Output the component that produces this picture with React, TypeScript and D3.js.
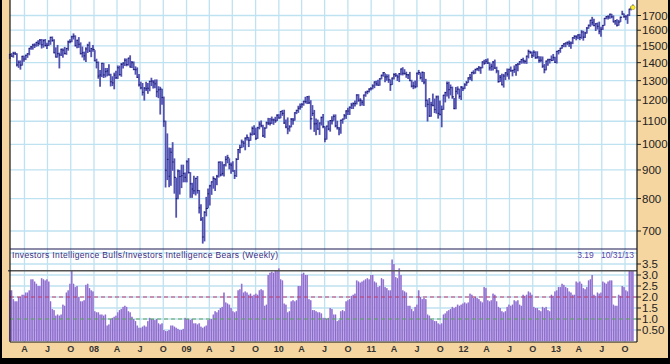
import { useEffect, useRef } from "react";
import * as d3 from "d3";

// weekly S&P 500 bars: [high, low, close], weeks ending Friday from 2/2/2007
type Bar = [number, number, number];

const spx2007: Bar[] = [
  [1449, 1424, 1448], [1453, 1437, 1438], [1461, 1432, 1455], [1461, 1449, 1451],
  [1452, 1381, 1387], [1410, 1373, 1402], [1410, 1363, 1386], [1437, 1386, 1437], [1438, 1408, 1421],
  [1444, 1418, 1443], [1453, 1431, 1452], [1485, 1446, 1485], [1497, 1479, 1494],
  [1510, 1480, 1505], [1513, 1490, 1505], [1522, 1498, 1522], [1532, 1501, 1515],
  [1540, 1510, 1536], [1540, 1487, 1507], [1538, 1492, 1533], [1540, 1500, 1502], [1517, 1484, 1503],
  [1532, 1503, 1530], [1555, 1510, 1553], [1556, 1529, 1534], [1539, 1458, 1458],
  [1488, 1433, 1433], [1503, 1433, 1453], [1456, 1370, 1445], [1480, 1442, 1479], [1481, 1432, 1474],
  [1491, 1451, 1454], [1485, 1449, 1484], [1530, 1474, 1525], [1539, 1519, 1527],
  [1561, 1526, 1557], [1576, 1543, 1561], [1563, 1500, 1501], [1535, 1489, 1535],
  [1552, 1491, 1510], [1519, 1451, 1453], [1493, 1433, 1458], [1462, 1416, 1440], [1488, 1406, 1481],
  [1510, 1460, 1504], [1523, 1467, 1468], [1485, 1435, 1484], [1503, 1468, 1478],
];

const spx2008: Bar[] = [
  [1471, 1411, 1411], [1420, 1370, 1401], [1404, 1313, 1325], [1355, 1270, 1331],
  [1396, 1322, 1396], [1396, 1317, 1331], [1367, 1320, 1349], [1367, 1326, 1353], [1388, 1330, 1331],
  [1335, 1272, 1294], [1321, 1274, 1288], [1341, 1257, 1330], [1352, 1312, 1316],
  [1381, 1312, 1371], [1380, 1330, 1333], [1395, 1324, 1390], [1398, 1370, 1398],
  [1422, 1384, 1414], [1421, 1382, 1389], [1426, 1386, 1426], [1440, 1375, 1375], [1406, 1373, 1400],
  [1404, 1360, 1361], [1376, 1335, 1360], [1370, 1317, 1318], [1333, 1272, 1278],
  [1292, 1257, 1262], [1285, 1225, 1239], [1263, 1200, 1261], [1291, 1248, 1257],
  [1285, 1234, 1260], [1297, 1247, 1296], [1313, 1274, 1298], [1300, 1261, 1292], [1303, 1263, 1283],
  [1304, 1217, 1242], [1268, 1212, 1252], [1265, 1133, 1255], [1255, 1180, 1213],
  [1215, 1077, 1100], [1100, 839, 899], [1044, 865, 940], [985, 840, 877], [984, 845, 968],
  [1007, 899, 930], [942, 818, 873], [870, 741, 800], [900, 799, 896],
  [898, 815, 876], [918, 837, 879], [918, 857, 887], [889, 857, 873],
];

const spx2009: Bar[] = [
  [935, 857, 931], [943, 889, 890], [890, 804, 850], [852, 804, 832], [877, 816, 826],
  [870, 812, 869], [876, 818, 827], [827, 754, 770], [780, 731, 735],
  [740, 666, 683], [758, 672, 756], [804, 745, 768], [832, 770, 816],
  [845, 779, 843], [857, 814, 857], [875, 835, 869], [868, 827, 866],
  [880, 847, 877], [930, 874, 929], [931, 878, 882], [930, 881, 887], [920, 878, 919],
  [951, 915, 940], [956, 927, 946], [942, 904, 921], [926, 888, 918],
  [931, 896, 896], [898, 869, 879], [943, 876, 940], [979, 940, 979], [996, 966, 987],
  [1018, 987, 1010], [1013, 990, 1005], [1027, 978, 1026], [1039, 1018, 1029],
  [1028, 991, 1017], [1048, 1017, 1042], [1074, 1039, 1068], [1080, 1041, 1044],
  [1069, 1020, 1025], [1073, 1025, 1071], [1097, 1066, 1087], [1101, 1075, 1080], [1082, 1033, 1036],
  [1071, 1029, 1069], [1096, 1070, 1093], [1113, 1085, 1091], [1112, 1083, 1091],
  [1119, 1090, 1106], [1110, 1086, 1106], [1118, 1095, 1102], [1130, 1103, 1127],
];

const spx2010: Bar[] = [
  [1130, 1114, 1115], [1145, 1116, 1145], [1150, 1127, 1136], [1151, 1090, 1092], [1105, 1071, 1074],
  [1115, 1045, 1066], [1080, 1056, 1075], [1112, 1075, 1109], [1112, 1086, 1105],
  [1139, 1105, 1139], [1151, 1135, 1150], [1170, 1141, 1160], [1181, 1156, 1167],
  [1183, 1165, 1179], [1194, 1175, 1194], [1214, 1186, 1192], [1217, 1183, 1217], [1219, 1183, 1187],
  [1197, 1065, 1111], [1173, 1126, 1136], [1150, 1055, 1088], [1110, 1040, 1089],
  [1105, 1064, 1065], [1092, 1042, 1092], [1119, 1083, 1117], [1131, 1071, 1076],
  [1074, 1011, 1022], [1078, 1022, 1078], [1100, 1062, 1065], [1103, 1056, 1103], [1120, 1087, 1102],
  [1129, 1105, 1122], [1129, 1075, 1079], [1100, 1065, 1071], [1072, 1040, 1065],
  [1105, 1047, 1104], [1109, 1091, 1110], [1131, 1110, 1125], [1148, 1113, 1148],
  [1160, 1131, 1147], [1167, 1131, 1165], [1184, 1159, 1176], [1186, 1159, 1183], [1196, 1171, 1183],
  [1227, 1181, 1225], [1227, 1194, 1199], [1207, 1173, 1199], [1198, 1176, 1189],
  [1225, 1174, 1225], [1241, 1219, 1240], [1246, 1232, 1243], [1257, 1241, 1256], [1263, 1251, 1258],
];

const spx2011: Bar[] = [
  [1278, 1257, 1272], [1293, 1263, 1293], [1297, 1275, 1283], [1302, 1276, 1276],
  [1311, 1276, 1310], [1330, 1310, 1329], [1344, 1324, 1343], [1337, 1294, 1320],
  [1332, 1302, 1321], [1331, 1291, 1304], [1303, 1249, 1279], [1314, 1280, 1314],
  [1337, 1309, 1333], [1339, 1322, 1329], [1330, 1301, 1320], [1339, 1295, 1338], [1364, 1332, 1364],
  [1371, 1331, 1340], [1360, 1336, 1338], [1346, 1318, 1333], [1334, 1311, 1331],
  [1345, 1300, 1300], [1302, 1267, 1271], [1292, 1258, 1272], [1298, 1262, 1268],
  [1341, 1268, 1340], [1356, 1334, 1344], [1340, 1309, 1316], [1347, 1295, 1345], [1345, 1283, 1292],
  [1307, 1168, 1199], [1200, 1101, 1179], [1208, 1122, 1124], [1190, 1123, 1177],
  [1230, 1172, 1174], [1205, 1140, 1154], [1220, 1137, 1216], [1220, 1114, 1136], [1195, 1129, 1131],
  [1171, 1075, 1155], [1224, 1155, 1224], [1239, 1191, 1238], [1293, 1221, 1285],
  [1292, 1210, 1253], [1277, 1226, 1263], [1266, 1209, 1216], [1208, 1158, 1159],
  [1264, 1158, 1244], [1267, 1231, 1255], [1255, 1209, 1219], [1269, 1203, 1265], [1267, 1248, 1258],
];

const spx2012: Bar[] = [
  [1284, 1258, 1278], [1296, 1275, 1289], [1315, 1291, 1315], [1333, 1306, 1316],
  [1345, 1300, 1345], [1354, 1337, 1342], [1363, 1340, 1361], [1368, 1357, 1366],
  [1378, 1354, 1370], [1374, 1340, 1371], [1405, 1371, 1404], [1414, 1391, 1397], [1419, 1397, 1408],
  [1422, 1395, 1398], [1398, 1358, 1370], [1392, 1357, 1379], [1406, 1358, 1403],
  [1415, 1367, 1369], [1374, 1343, 1353], [1354, 1292, 1295], [1328, 1296, 1318],
  [1335, 1278, 1278], [1334, 1266, 1325], [1343, 1306, 1343], [1364, 1324, 1335], [1363, 1309, 1362],
  [1375, 1351, 1354], [1357, 1326, 1356], [1381, 1345, 1362], [1389, 1329, 1386],
  [1395, 1354, 1391], [1406, 1389, 1405], [1419, 1397, 1418], [1426, 1398, 1411], [1414, 1397, 1407],
  [1438, 1396, 1438], [1474, 1428, 1466], [1467, 1455, 1460], [1463, 1430, 1441],
  [1470, 1437, 1461], [1464, 1425, 1429], [1464, 1426, 1433], [1434, 1403, 1412],
  [1434, 1405, 1414], [1433, 1373, 1380], [1389, 1343, 1360], [1409, 1359, 1409], [1420, 1385, 1416],
  [1420, 1398, 1418], [1439, 1411, 1413], [1448, 1414, 1430], [1432, 1401, 1402],
];

const spx2013: Bar[] = [
  [1467, 1398, 1466], [1472, 1451, 1472], [1485, 1461, 1486], [1503, 1485, 1503],
  [1514, 1495, 1513], [1518, 1495, 1518], [1525, 1508, 1520], [1530, 1497, 1516],
  [1525, 1485, 1518], [1552, 1514, 1551], [1564, 1546, 1560], [1564, 1538, 1556], [1570, 1546, 1569],
  [1573, 1539, 1553], [1597, 1548, 1588], [1593, 1536, 1555], [1586, 1552, 1582],
  [1618, 1581, 1614], [1634, 1613, 1633], [1667, 1626, 1667], [1687, 1635, 1650], [1674, 1630, 1631],
  [1644, 1598, 1643], [1648, 1608, 1626], [1654, 1577, 1593], [1620, 1560, 1606],
  [1632, 1605, 1632], [1680, 1634, 1680], [1693, 1677, 1692], [1698, 1676, 1691],
  [1709, 1681, 1709], [1708, 1684, 1691], [1697, 1656, 1656], [1664, 1640, 1664], [1670, 1628, 1633],
  [1666, 1634, 1655], [1689, 1658, 1688], [1730, 1708, 1710], [1711, 1687, 1692],
  [1700, 1671, 1691], [1703, 1646, 1703], [1745, 1700, 1745], [1759, 1740, 1760],
  [1775, 1752, 1757],
];

// Investors Intelligence bulls / bears ratio, same weeks
const ratio2007 = [
  2.3, 2.3, 1.9, 1.8, 1.8, 2.0, 2.0, 2.1, 2.1, 2.2, 2.2, 2.3, 2.8, 2.8, 2.7, 2.6,
  2.5, 2.5, 2.85, 2.8, 2.75, 2.8, 2.7, 1.8, 1.45, 1.4, 1.15, 1.2, 1.15, 1.2, 1.65, 1.6,
  2.2, 2.3, 2.6, 3.2, 2.6, 2.45, 2.5, 2.0, 1.8, 1.8, 1.85, 2.55, 2.6, 2.4, 2.3, 2.25,
];
const ratio2008 = [
  1.35, 1.3, 1.3, 1.2, 1.2, 1.15, 1.2, 0.7, 0.75, 1.0, 1.05, 1.1, 1.15, 1.3, 1.4, 1.45,
  1.55, 1.6, 1.55, 1.35, 1.3, 1.1, 1.0, 0.9, 0.7, 0.6, 0.6, 0.65, 0.7, 0.65, 0.9, 1.05,
  1.0, 1.0, 0.95, 1.0, 0.8, 0.75, 0.8, 0.5, 0.45, 0.45, 0.5, 0.7, 0.7, 0.65, 0.6, 0.55,
  0.5, 0.5, 0.55, 1.05,
];
const ratio2009 = [
  1.0, 1.0, 0.95, 1.0, 0.8, 0.8, 0.75, 0.8, 0.65, 0.6, 0.65, 0.7, 0.95, 1.0, 1.0, 1.2,
  1.35, 1.3, 1.4, 1.5, 1.55, 2.2, 1.75, 1.7, 1.65, 1.5, 1.35, 1.3, 1.35, 2.3, 2.35, 2.6,
  2.2, 2.25, 2.2, 2.1, 2.15, 2.05, 2.1, 2.15, 2.1, 2.3, 2.35, 2.3, 1.6, 1.65, 3.0, 3.1,
  3.15, 3.1, 3.2, 3.2,
];
const ratio2010 = [
  3.3, 2.8, 2.75, 1.7, 1.65, 1.3, 1.35, 1.8, 1.85, 1.8, 1.85, 2.5, 2.5, 3.05, 3.1, 3.0,
  3.0, 1.9, 1.85, 1.4, 1.4, 1.35, 1.3, 1.3, 1.25, 1.05, 1.05, 1.0, 1.05, 1.5, 1.45, 1.2,
  1.2, 0.9, 0.95, 1.35, 1.4, 1.35, 1.8, 1.85, 1.9, 2.05, 2.1, 2.15, 2.75, 2.7, 2.65, 2.7,
  2.75, 2.8, 2.85, 2.8, 3.0,
];
const ratio2011 = [
  3.0, 2.7, 2.65, 2.45, 2.5, 2.85, 2.8, 2.45, 2.4, 2.3, 2.3, 3.7, 3.5, 2.9, 2.85, 3.3,
  3.0, 2.3, 2.25, 2.2, 1.6, 1.6, 1.45, 1.35, 1.55, 1.65, 2.3, 2.0, 1.9, 1.95, 1.9, 1.2,
  1.15, 1.0, 0.95, 0.9, 0.9, 0.8, 0.75, 0.8, 1.2, 1.25, 1.35, 1.4, 1.45, 1.55, 1.5, 1.55,
  1.65, 1.6, 1.65, 1.7,
];
const ratio2012 = [
  1.75, 1.7, 1.75, 2.15, 2.1, 1.95, 2.0, 1.95, 1.9, 1.8, 1.75, 2.45, 2.4, 1.85, 1.8, 1.85,
  2.15, 2.1, 1.8, 1.55, 1.5, 1.35, 1.3, 1.35, 1.55, 1.65, 1.6, 1.65, 1.85, 1.8, 1.85, 1.65,
  1.6, 2.1, 2.05, 2.1, 2.25, 2.2, 2.1, 1.55, 1.5, 1.5, 1.4, 1.35, 1.55, 1.5, 1.55, 1.4,
  1.35, 2.1, 2.05, 2.25,
];
const ratio2013 = [
  2.3, 2.45, 2.45, 2.6, 2.55, 2.45, 2.4, 2.25, 2.2, 2.1, 2.1, 2.7, 2.65, 2.7, 2.6, 2.4,
  2.35, 2.45, 2.75, 2.8, 3.0, 2.1, 2.05, 2.2, 2.15, 2.2, 2.7, 2.65, 2.6, 2.7, 2.75, 2.75,
  1.65, 1.6, 1.6, 2.1, 2.05, 2.5, 2.45, 2.3, 2.25, 3.2, 3.19, 3.19,
];

const priceTicks = [700, 800, 900, 1000, 1100, 1200, 1300, 1400, 1500, 1600, 1700];
const ratioTicks = [0.5, 1.0, 1.5, 2.0, 2.5, 3.0, 3.5];
const ratioTickLabels = ["0.50", "1.0", "1.5", "2.0", "2.5", "3.0", "3.5"];
const ratioGrid = [0.5, 1.0, 1.5, 2.0, 2.5, 3.0, 3.5, 4.0];
const quarterLetters: Record<number, string> = { 3: "A", 6: "J", 9: "O" };

const lastRatio = 3.19;
const lastDate = "10/31/13";
const panelTitle = "Investors Intelligence Bulls/Investors Intelligence Bears (Weekly)";

const W = 670;
const H = 364;

export default function App() {
  const svgRef = useRef<SVGSVGElement>(null);

  useEffect(() => {
    if (!svgRef.current) return;
    const svg = d3.select(svgRef.current);
    svg.selectAll("*").remove();

    const left = 10;
    const right = 637;
    const divY = 249;
    const bottom = 342;
    const tan = "#f5d6a1";
    const grid = "#bfe2f1";
    const font = "Liberation Sans, Arial, sans-serif";

    const prices = [...spx2007, ...spx2008, ...spx2009, ...spx2010, ...spx2011, ...spx2012, ...spx2013];
    const ratios = [...ratio2007, ...ratio2008, ...ratio2009, ...ratio2010, ...ratio2011, ...ratio2012, ...ratio2013];
    const start = new Date(2007, 1, 2);
    const dates = prices.map((_, i) => d3.timeDay.offset(start, i * 7));

    const x = d3
      .scaleTime()
      .domain([new Date(2008, 0, 1), new Date(2013, 0, 1)])
      .range([94, 556]);
    const yP = d3.scaleLog().domain([700, 1700]).range([231, 15.5]);
    const yR = d3.scaleLinear().domain([0, 3.5]).range([341, 264]);
    const step = x(d3.timeDay.offset(start, 7)) - x(start);

    // frame
    svg.append("rect").attr("width", W).attr("height", H).attr("fill", tan);
    svg.append("rect").attr("x", left).attr("y", 0).attr("width", right - left).attr("height", bottom).attr("fill", "#fff");

    const quarters = d3.timeMonth
      .every(3)!
      .range(new Date(2007, 3, 1), new Date(2013, 11, 1));

    // grid
    const g = svg.append("g").attr("stroke", grid).attr("stroke-width", 1.3);
    quarters.forEach((q) => {
      g.append("line").attr("x1", x(q)).attr("x2", x(q)).attr("y1", 0).attr("y2", bottom);
    });
    priceTicks.forEach((t) => {
      g.append("line").attr("x1", left).attr("x2", right).attr("y1", yP(t)).attr("y2", yP(t));
    });
    ratioGrid.forEach((t) => {
      g.append("line").attr("x1", left).attr("x2", right).attr("y1", yR(t)).attr("y2", yR(t));
    });

    // price bars
    const pg = svg.append("g");
    prices.forEach((d, i) => {
      const cx = x(dates[i]);
      pg.append("line")
        .attr("x1", cx).attr("x2", cx)
        .attr("y1", yP(d[0]) - 0.5).attr("y2", yP(d[1]) + 0.5)
        .attr("stroke", "#5252b0").attr("stroke-width", 1.8);
      pg.append("line")
        .attr("x1", cx - 0.4).attr("x2", cx + 1.7)
        .attr("y1", yP(d[2])).attr("y2", yP(d[2]))
        .attr("stroke", "#1c1c6e").attr("stroke-width", 1.1);
    });
    const last = prices[prices.length - 1];
    svg.append("circle")
      .attr("cx", x(dates[dates.length - 1]))
      .attr("cy", yP(last[2]))
      .attr("r", 2.2)
      .attr("fill", "#ffee22")
      .attr("stroke", "#9a8a20")
      .attr("stroke-width", 0.5);

    // ratio bars
    const rg = svg.append("g");
    ratios.forEach((v, i) => {
      const cx = x(dates[i]);
      rg.append("rect")
        .attr("x", cx - step / 2).attr("width", step)
        .attr("y", yR(v)).attr("height", yR(0) - yR(v))
        .attr("fill", "#b9a2e4");
      rg.append("line")
        .attr("x1", cx).attr("x2", cx)
        .attr("y1", yR(v)).attr("y2", yR(0))
        .attr("stroke", "#8a68cc").attr("stroke-width", 1);
    });

    // reference lines
    svg.append("line")
      .attr("x1", left).attr("x2", right).attr("y1", yR(2)).attr("y2", yR(2))
      .attr("stroke", "#c23a6a").attr("stroke-width", 1.2).attr("stroke-dasharray", "4,3");
    svg.append("line")
      .attr("x1", left).attr("x2", right).attr("y1", yR(1)).attr("y2", yR(1))
      .attr("stroke", "#5aa35a").attr("stroke-width", 1.2).attr("stroke-dasharray", "4,3");
    svg.append("line")
      .attr("x1", left - 2).attr("x2", right).attr("y1", yR(lastRatio)).attr("y2", yR(lastRatio))
      .attr("stroke", "#555").attr("stroke-width", 1.5);

    // borders
    const b = svg.append("g").attr("stroke", "#111").attr("stroke-width", 1.2);
    b.append("line").attr("x1", left).attr("x2", left).attr("y1", 0).attr("y2", bottom);
    b.append("line").attr("x1", right).attr("x2", right).attr("y1", 0).attr("y2", bottom);
    b.append("line").attr("x1", left).attr("x2", right).attr("y1", bottom).attr("y2", bottom);
    b.append("line").attr("x1", left).attr("x2", right).attr("y1", divY).attr("y2", divY).attr("stroke", "#1a1a55");
    svg.append("rect").attr("x", 0).attr("y", 0).attr("width", 2).attr("height", H).attr("fill", "#000");
    svg.append("rect").attr("x", W - 2).attr("y", 0).attr("width", 2).attr("height", H).attr("fill", "#000");
    svg.append("rect").attr("x", 0).attr("y", H - 6).attr("width", W).attr("height", 6).attr("fill", "#000");

    // right axis
    const ax = svg.append("g").attr("font-family", font).attr("font-size", 11.5).attr("fill", "#222");
    priceTicks.forEach((t) => {
      ax.append("line").attr("x1", right).attr("x2", right + 4).attr("y1", yP(t)).attr("y2", yP(t)).attr("stroke", "#222");
      ax.append("text").attr("x", right + 5).attr("y", yP(t)).attr("dy", "0.35em").text(String(t));
    });
    ratioTicks.forEach((t, i) => {
      ax.append("line").attr("x1", right).attr("x2", right + 4).attr("y1", yR(t)).attr("y2", yR(t)).attr("stroke", "#222");
      ax.append("text").attr("x", right + 5).attr("y", yR(t)).attr("dy", "0.35em").text(ratioTickLabels[i]);
    });

    // bottom axis
    const bx = svg.append("g").attr("font-family", font).attr("font-size", 9).attr("font-weight", "bold").attr("fill", "#333").attr("text-anchor", "middle");
    quarters.forEach((q) => {
      const m = q.getMonth();
      const label = m === 0 ? d3.timeFormat("%y")(q) : quarterLetters[m];
      bx.append("text").attr("x", x(q)).attr("y", 352).text(label);
    });

    // panel captions
    svg.append("text")
      .attr("x", 12).attr("y", 258)
      .attr("font-family", font).attr("font-size", 8.5)
      .attr("fill", "#3a2c80")
      .attr("textLength", 266)
      .text(panelTitle);
    svg.append("text")
      .attr("x", 634).attr("y", 258)
      .attr("font-family", font).attr("font-size", 8.5)
      .attr("fill", "#5a44a8")
      .attr("text-anchor", "end")
      .attr("xml:space", "preserve")
      .text(`${lastRatio.toFixed(2)}   ${lastDate}`);
  }, []);

  return (
    <svg
      ref={svgRef}
      width={W}
      height={H}
      style={{ position: "absolute", left: 0, top: 0, display: "block" }}
    />
  );
}
